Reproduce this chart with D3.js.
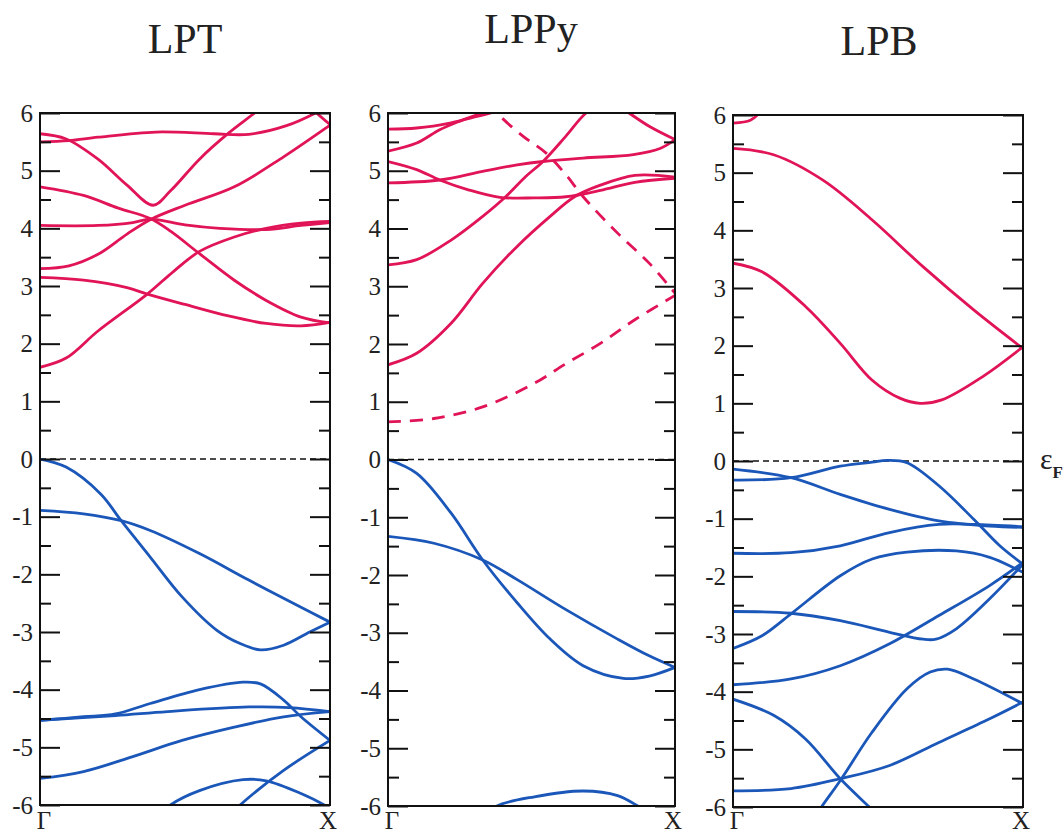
<!DOCTYPE html>
<html>
<head>
<meta charset="utf-8">
<script src="https://cdn.jsdelivr.net/npm/d3@7"></script>
<style>
  body { margin: 0; background: #fff; }
  svg { display: block; }
  svg text { font-family: "Liberation Serif", "DejaVu Serif", serif; }
</style>
</head>
<body>
<div id="chart"></div>
<script>
const width = 1063;
const height = 836;

// k runs from Gamma (0) to X (1), energies in eV
const titles = ['LPT', 'LPPy', 'LPB'];
const majorTicks = [-6, -5, -4, -3, -2, -1, 0, 1, 2, 3, 4, 5, 6];
const minorTicks = [-5.5, -4.5, -3.5, -2.5, -1.5, -0.5, 0.5, 1.5, 2.5, 3.5, 4.5, 5.5];
const kLabels = ['\u0393', 'X'];

const lptCond = [
    [[0, 1.59], [0.09, 1.75], [0.2, 2.22], [0.37, 2.86], [0.46, 3.25], [0.55, 3.6], [0.67, 3.85], [0.78, 4.0], [0.9, 4.09], [1, 4.12]],
    [[0, 3.15], [0.15, 3.1], [0.3, 2.97], [0.37, 2.86], [0.5, 2.68], [0.65, 2.48], [0.78, 2.35], [0.9, 2.31], [1, 2.37]],
    [[0, 3.3], [0.1, 3.35], [0.2, 3.55], [0.3, 3.9], [0.38, 4.15], [0.5, 4.4], [0.67, 4.72], [0.84, 5.24], [1, 5.79]],
    [[0, 4.05], [0.2, 4.05], [0.32, 4.1], [0.38, 4.16], [0.5, 4.06], [0.62, 4.0], [0.78, 3.98], [0.9, 4.05], [1, 4.1]],
    [[0, 4.72], [0.15, 4.57], [0.27, 4.35], [0.38, 4.17], [0.45, 3.95], [0.55, 3.56], [0.67, 3.1], [0.78, 2.75], [0.9, 2.46], [1, 2.36]],
    [[0, 5.64], [0.09, 5.55], [0.2, 5.2], [0.3, 4.75], [0.39, 4.4], [0.45, 4.65], [0.55, 5.2], [0.65, 5.65], [0.74, 6.0], [0.8, 6.25]],
    [[0, 5.5], [0.1, 5.52], [0.2, 5.58], [0.4, 5.67], [0.6, 5.64], [0.72, 5.63], [0.85, 5.78], [0.95, 6.0], [1, 6.15]],
    [[0.9, 6.3], [0.95, 6.02], [1, 5.8]]
];
const lptVal = [
    [[0, 0], [0.09, -0.14], [0.21, -0.61], [0.28, -1.07], [0.38, -1.7], [0.49, -2.39], [0.61, -2.97], [0.69, -3.2], [0.76, -3.31], [0.84, -3.23], [0.93, -3.0], [1, -2.83]],
    [[0, -0.89], [0.15, -0.95], [0.28, -1.07], [0.38, -1.24], [0.55, -1.64], [0.72, -2.1], [0.9, -2.57], [1, -2.83]],
    [[0, -4.53], [0.15, -4.47], [0.26, -4.42], [0.38, -4.24], [0.55, -4.0], [0.7, -3.87], [0.76, -3.9], [0.84, -4.18], [0.9, -4.47], [1, -4.88]],
    [[0, -4.53], [0.26, -4.45], [0.44, -4.38], [0.72, -4.3], [0.86, -4.31], [1, -4.38]],
    [[0, -5.54], [0.15, -5.42], [0.32, -5.16], [0.49, -4.88], [0.67, -4.65], [0.84, -4.47], [1, -4.38]],
    [[0.42, -6.15], [0.45, -6.0], [0.55, -5.75], [0.7, -5.56], [0.78, -5.58], [0.9, -5.8], [0.98, -6.0], [1, -6.07]],
    [[0.66, -6.15], [0.69, -6.0], [0.84, -5.4], [1, -4.88]]
];

const lppyCond = [
    [[0, 1.64], [0.1, 1.84], [0.22, 2.36], [0.33, 3.05], [0.45, 3.69], [0.565, 4.21], [0.65, 4.55], [0.74, 4.75], [0.86, 4.92], [1, 4.89]],
    [[0, 5.16], [0.1, 5.02], [0.18, 4.84], [0.28, 4.67], [0.39, 4.54], [0.51, 4.53], [0.62, 4.55], [0.74, 4.66], [0.86, 4.8], [1, 4.87]],
    [[0, 4.79], [0.18, 4.84], [0.33, 4.99], [0.45, 5.1], [0.54, 5.16], [0.68, 5.22], [0.855, 5.28], [0.95, 5.39], [1, 5.54]],
    [[0, 3.37], [0.1, 3.46], [0.22, 3.8], [0.33, 4.21], [0.41, 4.55], [0.48, 4.9], [0.54, 5.16], [0.62, 5.6], [0.69, 6.0], [0.77, 6.25], [0.84, 6.0], [0.91, 5.77], [1, 5.54]],
    [[0, 5.34], [0.1, 5.48], [0.18, 5.71], [0.25, 5.86], [0.31, 5.97], [0.36, 6.05]],
    [[0, 5.72], [0.1, 5.74], [0.22, 5.83], [0.31, 5.94], [0.37, 6.02]]
];
const lppyDashed = [
    [[0.35, 6.2], [0.38, 6.0], [0.47, 5.6], [0.55, 5.31], [0.62, 4.93], [0.68, 4.55], [0.8, 3.92], [0.91, 3.4], [1, 2.88]],
    [[0, 0.65], [0.16, 0.71], [0.33, 0.91], [0.51, 1.32], [0.62, 1.66], [0.74, 2.01], [0.86, 2.42], [1, 2.84]]
];
const lppyVal = [
    [[0, 0], [0.1, -0.24], [0.22, -0.93], [0.33, -1.74], [0.45, -2.48], [0.565, -3.11], [0.68, -3.57], [0.82, -3.79], [0.91, -3.75], [1, -3.6]],
    [[0, -1.33], [0.16, -1.45], [0.33, -1.74], [0.45, -2.08], [0.62, -2.6], [0.8, -3.11], [0.91, -3.4], [1, -3.6]],
    [[0.35, -6.15], [0.38, -6.0], [0.51, -5.84], [0.68, -5.74], [0.8, -5.82], [0.87, -6.0], [0.9, -6.1]]
];

const lpbCond = [
    [[0, 5.42], [0.14, 5.31], [0.31, 4.87], [0.48, 4.18], [0.655, 3.37], [0.83, 2.62], [1, 1.95]],
    [[0, 3.43], [0.1, 3.28], [0.25, 2.68], [0.37, 2.04], [0.48, 1.4], [0.575, 1.09], [0.645, 1.0], [0.72, 1.06], [0.86, 1.46], [1, 1.98]],
    [[0, 5.86], [0.06, 5.91], [0.09, 6.03], [0.12, 6.2]]
];
const lpbVal = [
    [[0, -0.14], [0.2, -0.29], [0.37, -0.58], [0.54, -0.84], [0.71, -1.04], [0.885, -1.13], [1, -1.15]],
    [[0, -0.33], [0.2, -0.29], [0.37, -0.09], [0.48, -0.02], [0.53, 0.01], [0.6, -0.03], [0.71, -0.43], [0.83, -1.01], [0.92, -1.47], [1, -1.79]],
    [[0, -1.6], [0.2, -1.59], [0.37, -1.47], [0.54, -1.24], [0.71, -1.1], [0.83, -1.1], [1, -1.14]],
    [[0, -3.25], [0.1, -3.03], [0.2, -2.65], [0.37, -1.99], [0.48, -1.7], [0.6, -1.58], [0.77, -1.56], [0.885, -1.67], [1, -1.93]],
    [[0, -2.61], [0.2, -2.64], [0.37, -2.77], [0.54, -2.97], [0.655, -3.09], [0.7, -3.09], [0.77, -2.91], [0.885, -2.39], [1, -1.79]],
    [[0, -3.88], [0.2, -3.78], [0.37, -3.55], [0.54, -3.17], [0.71, -2.68], [0.885, -2.16], [1, -1.76]],
    [[0, -4.13], [0.14, -4.41], [0.25, -4.82], [0.37, -5.51], [0.47, -6.0], [0.5, -6.15]],
    [[0, -5.72], [0.2, -5.68], [0.37, -5.51], [0.54, -5.28], [0.71, -4.88], [0.885, -4.47], [1, -4.18]],
    [[0.28, -6.2], [0.305, -6.0], [0.37, -5.54], [0.48, -4.7], [0.6, -3.95], [0.68, -3.66], [0.74, -3.61], [0.83, -3.78], [1, -4.21]]
];

const red = '#e01456';
const blue = '#1b57b8';

const panels = [
    { title: titles[0], cond: lptCond, dashed: [], val: lptVal, x0: 40, x1: 330, y0: 113, y1: 805, tx: 185, ty: 53 },
    { title: titles[1], cond: lppyCond, dashed: lppyDashed, val: lppyVal, x0: 388, x1: 675, y0: 113, y1: 806, tx: 531, ty: 43 },
    { title: titles[2], cond: lpbCond, dashed: [], val: lpbVal, x0: 733, x1: 1023, y0: 115, y1: 807, tx: 879, ty: 55 }
];

const svg = d3.select('#chart').append('svg')
    .attr('width', width)
    .attr('height', height);

panels.forEach((p, i) => {
    const x = d3.scaleLinear().domain([0, 1]).range([p.x0, p.x1]);
    const y = d3.scaleLinear().domain([-6, 6]).range([p.y1, p.y0]);

    const line = d3.line()
        .x(d => x(d[0]))
        .y(d => y(d[1]))
        .curve(d3.curveCatmullRom.alpha(0.5));

    const clipId = 'clip' + i;
    svg.append('clipPath').attr('id', clipId)
        .append('rect')
        .attr('x', p.x0).attr('y', p.y0)
        .attr('width', p.x1 - p.x0).attr('height', p.y1 - p.y0);

    const g = svg.append('g');
    const plot = g.append('g').attr('clip-path', `url(#${clipId})`);

    // fermi level
    plot.append('line')
        .attr('x1', x(0)).attr('x2', x(1))
        .attr('y1', y(0)).attr('y2', y(0))
        .attr('stroke', '#111')
        .attr('stroke-width', 1.7)
        .attr('stroke-dasharray', '6,4');

    plot.selectAll('.cond')
        .data(p.cond)
        .join('path')
        .attr('d', line)
        .attr('fill', 'none')
        .attr('stroke', red)
        .attr('stroke-width', 2.8);

    plot.selectAll('.dash')
        .data(p.dashed)
        .join('path')
        .attr('d', line)
        .attr('fill', 'none')
        .attr('stroke', red)
        .attr('stroke-width', 2.8)
        .attr('stroke-dasharray', '13,9');

    plot.selectAll('.val')
        .data(p.val)
        .join('path')
        .attr('d', line)
        .attr('fill', 'none')
        .attr('stroke', blue)
        .attr('stroke-width', 2.8);

    // axes, ticks pointing inward
    const leftMajor = g.append('g')
        .attr('transform', `translate(${p.x0},0)`)
        .call(d3.axisLeft(y).tickValues(majorTicks).tickSize(-20).tickPadding(7).tickFormat(d3.format('d')));
    const leftMinor = g.append('g')
        .attr('transform', `translate(${p.x0},0)`)
        .call(d3.axisLeft(y).tickValues(minorTicks).tickSize(-11).tickFormat(''));
    const rightMajor = g.append('g')
        .attr('transform', `translate(${p.x1},0)`)
        .call(d3.axisRight(y).tickValues(majorTicks).tickSize(-20).tickFormat(''));
    const rightMinor = g.append('g')
        .attr('transform', `translate(${p.x1},0)`)
        .call(d3.axisRight(y).tickValues(minorTicks).tickSize(-11).tickFormat(''));

    [leftMajor, leftMinor, rightMajor, rightMinor].forEach(a => {
        a.attr('font-family', null).attr('font-size', null);
        a.select('.domain').remove();
        a.selectAll('line').attr('stroke', '#111').attr('stroke-width', 2);
    });
    leftMajor.selectAll('text')
        .style('font-family', '"Liberation Serif", serif')
        .style('font-size', '25px')
        .attr('fill', '#222')
        .text(d => d < 0 ? '-' + Math.abs(d) : d);

    // frame
    g.append('rect')
        .attr('x', p.x0).attr('y', p.y0)
        .attr('width', p.x1 - p.x0).attr('height', p.y1 - p.y0)
        .attr('fill', 'none')
        .attr('stroke', '#111')
        .attr('stroke-width', 2);

    // k-point labels
    g.selectAll('.klab')
        .data(kLabels)
        .join('text')
        .attr('x', (d, j) => x(j) + (j === 0 ? 4 : -2))
        .attr('y', 829)
        .attr('text-anchor', 'middle')
        .style('font-size', '25px')
        .attr('fill', '#222')
        .text(d => d);

    svg.append('text')
        .attr('x', p.tx)
        .attr('y', p.ty)
        .attr('text-anchor', 'middle')
        .style('font-size', '42px')
        .attr('fill', '#222')
        .text(p.title);
});

// Fermi level label
const lastY = d3.scaleLinear().domain([-6, 6]).range([panels[2].y1, panels[2].y0]);
const ef = svg.append('text')
    .attr('x', 1040)
    .attr('y', lastY(0) + 8)
    .style('font-size', '30px')
    .attr('fill', '#222');
ef.append('tspan').text('\u03B5');
ef.append('tspan')
    .attr('dy', 9)
    .style('font-size', '17px')
    .attr('font-weight', 'bold')
    .text('F');
</script>
</body>
</html>
